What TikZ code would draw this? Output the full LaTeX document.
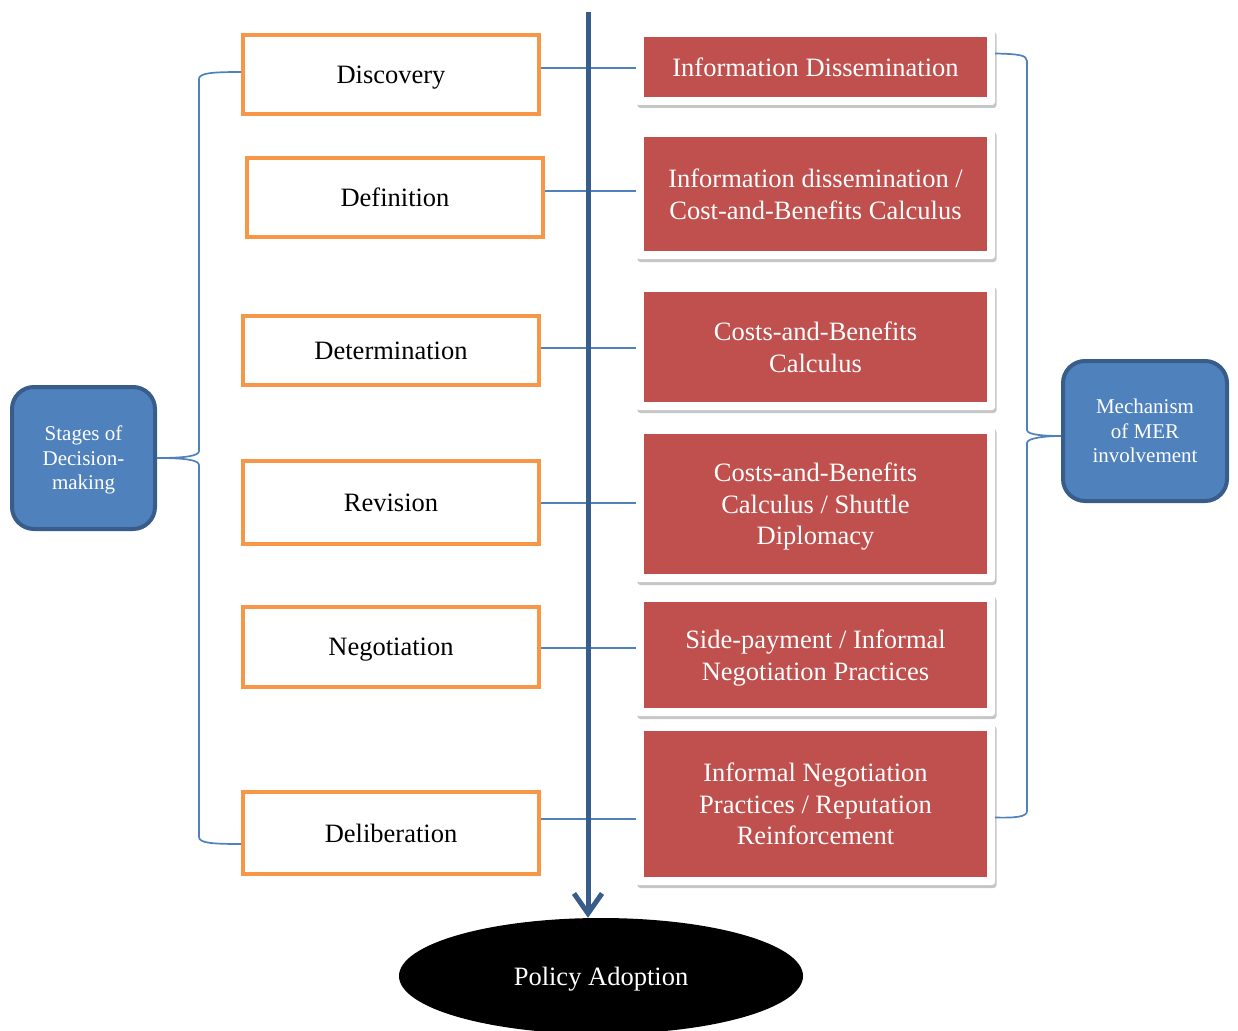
\documentclass[tikz,border=0pt]{standalone}
\usepackage{fontspec}
\setmainfont{Liberation Serif}
\usetikzlibrary{arrows.meta,shapes.geometric,shadows}
\definecolor{stageorange}{RGB}{247,150,70}
\definecolor{mechred}{RGB}{192,80,77}
\definecolor{accentblue}{RGB}{79,129,189}
\definecolor{deepblue}{RGB}{56,93,138}
\begin{document}
\begin{tikzpicture}[x=1pt,y=-1pt,
  stagebox/.style={draw=stageorange, line width=4pt, fill=white, minimum width=296pt,
    inner sep=0pt, text depth=0pt, font=\fontsize{26.5}{32}\selectfont},
  frame/.style={fill=white, rounded corners=3pt, minimum width=359pt, inner sep=0pt,
    drop shadow={shadow xshift=1.5pt, shadow yshift=-3pt, opacity=0.45}},
  mechbox/.style={fill=mechred, text=white, minimum width=343pt, inner sep=0pt,
    align=center, text depth=0pt, font=\fontsize{26.5}{31.5}\selectfont},
  hubbox/.style={fill=accentblue, draw=deepblue, line width=4pt, rounded corners=22pt,
    text=white, align=center, inner sep=0pt, text depth=0pt, font=\fontsize{21}{24.5}\selectfont},
  link/.style={accentblue, line width=1.7pt}]
\useasboundingbox (0,0) rectangle (1238,1030);

% stages of decision-making
\node[stagebox, minimum height=79pt] (o1) at (391,74.5) {Discovery};
\node[stagebox, minimum height=79pt] (o2) at (395,197.5) {Definition};
\node[stagebox, minimum height=69pt] (o3) at (391,350.5) {Determination};
\node[stagebox, minimum height=83pt] (o4) at (391,502.5) {Revision};
\node[stagebox, minimum height=80pt] (o5) at (391,647) {Negotiation};
\node[stagebox, minimum height=82pt] (o6) at (391,833) {Deliberation};

% mechanisms: white shadowed frame with red panel
\node[frame, minimum height=76pt] (f1) at (815.5,67) {};
\node[mechbox, minimum height=60pt] (r1) at (f1) {Information Dissemination};
\node[frame, minimum height=130pt] (f2) at (815.5,194) {};
\node[mechbox, minimum height=114pt] (r2) at (f2) {Information dissemination /\\Cost-and-Benefits Calculus};
\node[frame, minimum height=126pt] (f3) at (815.5,347) {};
\node[mechbox, minimum height=110pt] (r3) at (f3) {Costs-and-Benefits\\Calculus};
\node[frame, minimum height=156pt] (f4) at (815.5,504) {};
\node[mechbox, minimum height=140pt] (r4) at (f4) {Costs-and-Benefits\\Calculus / Shuttle\\Diplomacy};
\node[frame, minimum height=122pt] (f5) at (815.5,655) {};
\node[mechbox, minimum height=106pt] (r5) at (f5) {Side-payment / Informal\\Negotiation Practices};
\node[frame, minimum height=162pt] (f6) at (815.5,804) {};
\node[mechbox, minimum height=146pt] (r6) at (f6) {Informal Negotiation\\Practices / Reputation\\Reinforcement};

% group labels
\node[hubbox, minimum width=143pt, minimum height=142pt] (sdm) at (83.5,458) {Stages of\\Decision-\\making};
\node[hubbox, minimum width=164pt, minimum height=140pt] (mer) at (1145,431) {Mechanism\\of MER\\involvement};

% outcome
\node[ellipse, fill=black, minimum width=404pt, minimum height=116pt, inner sep=0pt,
  text=white, text depth=0pt, font=\fontsize{26.5}{32}\selectfont] (pa) at (601,976) {Policy Adoption};

% stage-to-mechanism links
\draw[link] (o1.east |- 0,68) -- (f1.west |- 0,68);
\draw[link] (o2.east |- 0,191) -- (f2.west |- 0,191);
\draw[link] (o3.east |- 0,348) -- (f3.west |- 0,348);
\draw[link] (o4.east |- 0,503) -- (f4.west |- 0,503);
\draw[link] (o5.east |- 0,648) -- (f5.west |- 0,648);
\draw[link] (o6.east |- 0,819) -- (f6.west |- 0,819);

% left brace
\draw[link] ([yshift=2.5pt]o1.west) .. controls (212,72) and (199,73) .. (199,79)
  -- (199,451) .. controls (199,456) and (185,458) .. (sdm.east)
  .. controls (185,458) and (199,460) .. (199,465)
  -- (199,837) .. controls (199,843) and (212,844) .. ([yshift=-11pt]o6.west);

% right brace
\draw[link] ([yshift=13.5pt]f1.east) .. controls (1018,54) and (1027,55) .. (1027,61)
  -- (1027,430) .. controls (1027,435) and (1045,436) .. ([yshift=-5pt]mer.west)
  .. controls (1045,436) and (1027,438) .. (1027,443)
  -- (1027,811) .. controls (1027,817) and (1015,818) .. ([yshift=-13.5pt]f6.east);

% timeline arrow
\coordinate (axtop) at (588,12);
\draw[deepblue, line width=5pt, -{Straight Barb[length=20pt,width=28pt]}] (axtop) -- (axtop |- pa.north);
\end{tikzpicture}
\end{document}
